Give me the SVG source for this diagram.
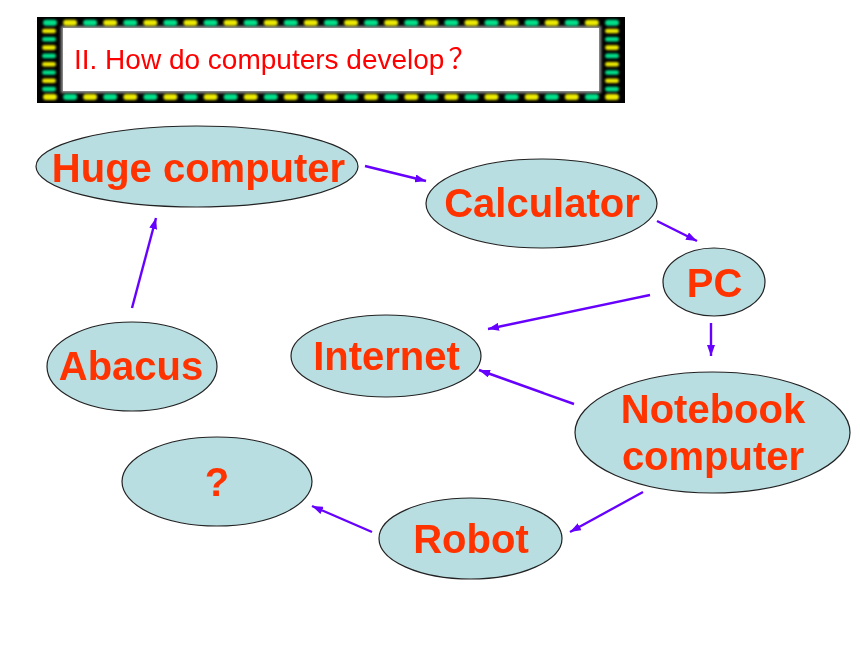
<svg xmlns="http://www.w3.org/2000/svg" xmlns:xlink="http://www.w3.org/1999/xlink" width="860" height="645" viewBox="0 0 860 645">
<style>
.node ellipse{fill:#b9dee1;stroke:#222;stroke-width:1.2}
.node text{font-family:"Liberation Sans",Arial,sans-serif;font-weight:bold;font-size:40px;fill:#ff3300;text-anchor:middle}
.conn line{stroke:#6600ff;stroke-width:2.4;marker-end:url(#ah)}
.title{font-family:"Liberation Sans",Arial,"Noto Sans CJK SC",sans-serif;font-size:28px;fill:#ff0000}
</style>
<defs>
<marker id="ah" viewBox="0 0 11 8" refX="11" refY="4" markerWidth="11" markerHeight="8" markerUnits="userSpaceOnUse" orient="auto">
<path d="M0,0 L11,4 L0,8 z" fill="#6600ff"/>
</marker>
<filter id="glow" x="-5%" y="-20%" width="110%" height="140%"><feGaussianBlur stdDeviation="0.8"/></filter>
<filter id="soft" x="-5%" y="-20%" width="110%" height="140%"><feGaussianBlur stdDeviation="1.5"/></filter>
<rect id="tg" x="-7" y="-3" width="14" height="6" rx="3" fill="#00e08a"/>
<rect id="ty" x="-7" y="-3" width="14" height="6" rx="3" fill="#ecea00"/>
<rect id="sg" x="-7" y="-2.3" width="14" height="4.6" rx="2.3" fill="#00e08a"/>
<rect id="sy" x="-7" y="-2.3" width="14" height="4.6" rx="2.3" fill="#ecea00"/>
</defs>
<rect width="860" height="645" fill="#ffffff"/>
<g id="banner">
<rect x="37" y="17" width="588" height="86" fill="#000"/>
<rect x="61" y="26" width="540" height="67" fill="#9a9a9a" filter="url(#soft)"/>
<rect x="63" y="28" width="536" height="63" fill="#ffffff"/>
<g filter="url(#glow)">
<use href="#tg" x="50" y="22.7"/><use href="#ty" x="70.1" y="22.7"/><use href="#tg" x="90.1" y="22.7"/><use href="#ty" x="110.2" y="22.7"/><use href="#tg" x="130.3" y="22.7"/><use href="#ty" x="150.4" y="22.7"/><use href="#tg" x="170.4" y="22.7"/><use href="#ty" x="190.5" y="22.7"/><use href="#tg" x="210.6" y="22.7"/><use href="#ty" x="230.6" y="22.7"/><use href="#tg" x="250.7" y="22.7"/><use href="#ty" x="270.8" y="22.7"/><use href="#tg" x="290.8" y="22.7"/><use href="#ty" x="310.9" y="22.7"/><use href="#tg" x="331" y="22.7"/><use href="#ty" x="351.1" y="22.7"/><use href="#tg" x="371.1" y="22.7"/><use href="#ty" x="391.2" y="22.7"/><use href="#tg" x="411.3" y="22.7"/><use href="#ty" x="431.3" y="22.7"/><use href="#tg" x="451.4" y="22.7"/><use href="#ty" x="471.5" y="22.7"/><use href="#tg" x="491.5" y="22.7"/><use href="#ty" x="511.6" y="22.7"/><use href="#tg" x="531.7" y="22.7"/><use href="#ty" x="551.8" y="22.7"/><use href="#tg" x="571.8" y="22.7"/><use href="#ty" x="591.9" y="22.7"/><use href="#tg" x="612" y="22.7"/>
<use href="#ty" x="50" y="97"/><use href="#tg" x="70.1" y="97"/><use href="#ty" x="90.1" y="97"/><use href="#tg" x="110.2" y="97"/><use href="#ty" x="130.3" y="97"/><use href="#tg" x="150.4" y="97"/><use href="#ty" x="170.4" y="97"/><use href="#tg" x="190.5" y="97"/><use href="#ty" x="210.6" y="97"/><use href="#tg" x="230.6" y="97"/><use href="#ty" x="250.7" y="97"/><use href="#tg" x="270.8" y="97"/><use href="#ty" x="290.8" y="97"/><use href="#tg" x="310.9" y="97"/><use href="#ty" x="331" y="97"/><use href="#tg" x="351.1" y="97"/><use href="#ty" x="371.1" y="97"/><use href="#tg" x="391.2" y="97"/><use href="#ty" x="411.3" y="97"/><use href="#tg" x="431.3" y="97"/><use href="#ty" x="451.4" y="97"/><use href="#tg" x="471.5" y="97"/><use href="#ty" x="491.5" y="97"/><use href="#tg" x="511.6" y="97"/><use href="#ty" x="531.7" y="97"/><use href="#tg" x="551.8" y="97"/><use href="#ty" x="571.8" y="97"/><use href="#tg" x="591.9" y="97"/><use href="#ty" x="612" y="97"/>
<use href="#sy" x="49" y="31"/><use href="#sg" x="49" y="39.3"/><use href="#sy" x="49" y="47.6"/><use href="#sg" x="49" y="55.9"/><use href="#sy" x="49" y="64.2"/><use href="#sg" x="49" y="72.5"/><use href="#sy" x="49" y="80.8"/><use href="#sg" x="49" y="89.1"/>
<use href="#sy" x="612" y="31"/><use href="#sg" x="612" y="39.3"/><use href="#sy" x="612" y="47.6"/><use href="#sg" x="612" y="55.9"/><use href="#sy" x="612" y="64.2"/><use href="#sg" x="612" y="72.5"/><use href="#sy" x="612" y="80.8"/><use href="#sg" x="612" y="89.1"/>
</g>
<text class="title" x="74" y="69">II. How do computers develop<tspan dx="4">？</tspan></text>
</g>
<g id="connectors" class="conn">
<line x1="365" y1="166" x2="426" y2="181"/>
<line x1="657" y1="221" x2="697" y2="241"/>
<line x1="711" y1="323" x2="711" y2="356"/>
<line x1="650" y1="295" x2="488" y2="329"/>
<line x1="574" y1="404" x2="479" y2="370"/>
<line x1="643" y1="492" x2="570" y2="532"/>
<line x1="372" y1="532" x2="312" y2="506"/>
<line x1="132" y1="308" x2="156" y2="218"/>
</g>
<g id="node-huge" class="node"><ellipse cx="197" cy="166.5" rx="161" ry="40.5"/><text x="198.5" y="182">Huge computer</text></g>
<g id="node-calculator" class="node"><ellipse cx="541.5" cy="203.5" rx="115.5" ry="44.5"/><text x="542" y="217">Calculator</text></g>
<g id="node-pc" class="node"><ellipse cx="714" cy="282" rx="51" ry="34"/><text x="714.5" y="297">PC</text></g>
<g id="node-abacus" class="node"><ellipse cx="132" cy="366.5" rx="85" ry="44.5"/><text x="131" y="380">Abacus</text></g>
<g id="node-internet" class="node"><ellipse cx="386" cy="356" rx="95" ry="41"/><text x="386.5" y="370">Internet</text></g>
<g id="node-notebook" class="node"><ellipse cx="712.5" cy="432.5" rx="137.5" ry="60.5"/><text x="713" y="423">Notebook</text><text x="713" y="470">computer</text></g>
<g id="node-unknown" class="node"><ellipse cx="217" cy="481.5" rx="95" ry="44.5"/><text x="217" y="496">?</text></g>
<g id="node-robot" class="node"><ellipse cx="470.5" cy="538.5" rx="91.5" ry="40.5"/><text x="471" y="553">Robot</text></g>
</svg>
